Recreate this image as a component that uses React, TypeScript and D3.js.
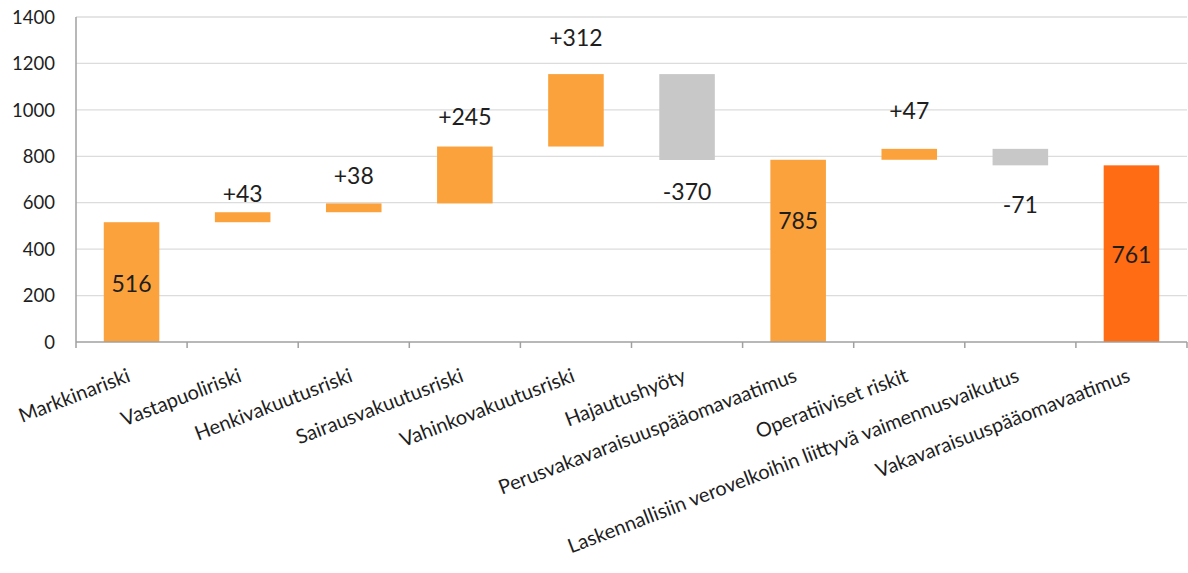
import React from "react";
import * as d3 from "d3";

// Waterfall: solvency capital requirement build-up (milj. €)
const categories: string[] = [
  "Markkinariski",
  "Vastapuoliriski",
  "Henkivakuutusriski",
  "Sairausvakuutusriski",
  "Vahinkovakuutusriski",
  "Hajautushyöty",
  "Perusvakavaraisuuspääomavaatimus",
  "Operatiiviset riskit",
  "Laskennallisiin verovelkoihin liittyvä vaimennusvaikutus",
  "Vakavaraisuuspääomavaatimus",
];
const values: number[] = [516, 43, 38, 245, 312, -370, 785, 47, -71, 761];
// "total" bars start from zero, "step" bars float on the running sum
const kinds: string[] = ["total", "step", "step", "step", "step", "step", "total", "step", "step", "final"];
const yTicks: number[] = [0, 200, 400, 600, 800, 1000, 1200, 1400];

const W = 1188;
const H = 573;
const plot = { left: 76, right: 1187, top: 17, bottom: 342 };

const colors = {
  up: "#FBA23C",
  down: "#C8C8C8",
  final: "#FF6C13",
  grid: "#DCDCDC",
  axis: "#A0A0A0",
  text: "#1E1E1E",
};

// vertical pixel nudges for the value labels (from bar centre for totals,
// from the bar's end for steps)
const labelShift: number[] = [2, -19, -28, -30, -36, 32, -30, -38, 39, 1];

const FONT = "Lato, 'Open Sans', sans-serif";

type Bar = { i: number; y0: number; y1: number; kind: string; v: number };

function buildBars(): Bar[] {
  let run = 0;
  return values.map((v, i) => {
    const kind = kinds[i];
    if (kind === "total" || kind === "final") {
      run = v;
      return { i, y0: 0, y1: v, kind, v };
    }
    const b = { i, y0: run, y1: run + v, kind, v };
    run += v;
    return b;
  });
}

export default function App() {
  const x = d3
    .scaleBand<number>()
    .domain(d3.range(categories.length))
    .range([plot.left, plot.right])
    .paddingInner(0.5)
    .paddingOuter(0.25);
  const step = x.step();
  const y = d3.scaleLinear().domain([0, 1400]).range([plot.bottom, plot.top]);
  const bars = buildBars();

  const fill = (b: Bar) =>
    b.kind === "final" ? colors.final : b.kind === "step" && b.v < 0 ? colors.down : colors.up;

  const labelText = (b: Bar) =>
    b.kind === "step" ? (b.v > 0 ? `+${b.v}` : `${b.v}`) : `${b.v}`;

  const labelY = (b: Bar) => {
    if (b.kind !== "step") return (y(b.y0) + y(b.y1)) / 2 + labelShift[b.i];
    return y(b.y1) + labelShift[b.i];
  };

  const boundaries = d3.range(categories.length + 1).map((k) => plot.left + k * step);

  return (
    <div>
      <style>{`body{margin:0}`}</style>
      <svg width={W} height={H} style={{ display: "block", background: "#fff" }}>
        {/* horizontal gridlines */}
        {yTicks
          .filter((t) => t > 0)
          .map((t) => (
            <line
              key={`g${t}`}
              x1={plot.left}
              x2={plot.right}
              y1={y(t)}
              y2={y(t)}
              stroke={colors.grid}
              strokeWidth={1.3}
            />
          ))}

        {/* bars */}
        {bars.map((b) => (
          <rect
            key={`b${b.i}`}
            x={x(b.i)}
            width={x.bandwidth()}
            y={y(Math.max(b.y0, b.y1))}
            height={Math.abs(y(b.y0) - y(b.y1))}
            fill={fill(b)}
          />
        ))}

        {/* axes */}
        <line x1={plot.left} x2={plot.left} y1={plot.top} y2={plot.bottom} stroke={colors.axis} strokeWidth={1.5} />
        <line x1={plot.left} x2={plot.right} y1={plot.bottom} y2={plot.bottom} stroke={colors.axis} strokeWidth={1.5} />
        {boundaries.map((bx, k) => (
          <line key={`t${k}`} x1={bx} x2={bx} y1={plot.bottom} y2={plot.bottom + 6} stroke={colors.axis} strokeWidth={1.5} />
        ))}

        {/* y tick labels */}
        {yTicks.map((t) => (
          <text
            key={`yl${t}`}
            x={55}
            y={y(t)}
            dy="0.36em"
            textAnchor="end"
            fontFamily={FONT}
            fontSize={18.5}
            fill={colors.text}
          >
            {t}
          </text>
        ))}

        {/* value labels */}
        {bars.map((b) => (
          <text
            key={`vl${b.i}`}
            x={(x(b.i) as number) + x.bandwidth() / 2}
            y={labelY(b)}
            dy="0.36em"
            textAnchor="middle"
            fontFamily={FONT}
            fontSize={23}
            fill={colors.text}
          >
            {labelText(b)}
          </text>
        ))}

        {/* category labels */}
        {categories.map((c, i) => {
          const cx = (x(i) as number) + x.bandwidth() / 2;
          return (
            <text
              key={`c${i}`}
              transform={`translate(${cx},${plot.bottom + 39}) rotate(-21)`}
              textAnchor="end"
              fontFamily={FONT}
              fontSize={20}
              fill={colors.text}
            >
              {c}
            </text>
          );
        })}
      </svg>
    </div>
  );
}
